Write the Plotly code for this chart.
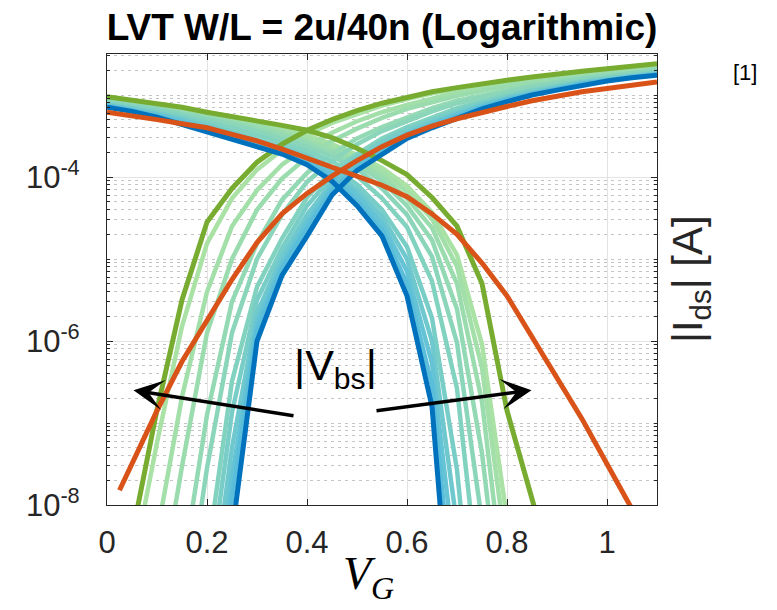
import plotly.graph_objects as go

vg = [0.0, 0.05, 0.1, 0.15, 0.2, 0.25, 0.3, 0.35, 0.4, 0.45, 0.5, 0.55,
      0.6, 0.65, 0.7, 0.75, 0.8, 0.85, 0.9, 0.95, 1.0, 1.05, 1.1]

# log10(|Ids| / A)
blue_rise = [None, None, None, None, -10.9, -8.35, -6.0, -5.2, -4.72, -4.22, -3.92, -3.72,
             -3.53, -3.40, -3.28, -3.17, -3.08, -3.00, -2.94, -2.88, -2.83, -2.79, -2.76]
green_rise = [-9.9, -8.4, -6.84, -5.5, -4.55, -4.14, -3.82, -3.60, -3.43, -3.30, -3.19, -3.10,
              -3.03, -2.96, -2.91, -2.86, -2.82, -2.78, -2.74, -2.71, -2.68, -2.65, -2.62]
blue_fall = [-3.15, -3.2, -3.27, -3.36, -3.46, -3.55, -3.63, -3.72, -3.85, -4.05, -4.35, -4.72,
             -5.45, -6.8, -10.5, None, None, None, None, None, None, None, None]
green_fall = [-3.02, -3.06, -3.1, -3.15, -3.21, -3.26, -3.31, -3.37, -3.43, -3.52, -3.65, -3.8,
              -3.97, -4.25, -4.6, -5.3, -6.85, -8.0, -9.0, None, None, None, None]
orange_vg_rise = [0.025, 0.05, 0.1, 0.15, 0.2, 0.25, 0.3, 0.35, 0.4, 0.45, 0.5, 0.55,
                  0.6, 0.65, 0.7, 0.75, 0.8, 0.85, 0.9, 0.95, 1.0, 1.05, 1.1]
orange_rise = [-7.82, -7.5, -6.85, -6.25, -5.75, -5.25, -4.8, -4.45, -4.2, -3.99, -3.8, -3.63,
               -3.49, -3.38, -3.29, -3.21, -3.14, -3.07, -3.01, -2.96, -2.92, -2.88, -2.84]
orange_fall = [-3.21, -3.25, -3.3, -3.35, -3.40, -3.48, -3.56, -3.66, -3.77, -3.88, -3.98, -4.10,
               -4.24, -4.45, -4.7, -5.05, -5.45, -5.95, -6.45, -6.95, -7.5, -8.05, -8.6]

# intermediate |Vbs| curves (lightest green -> cyan), rising branch
mid_rise_1 = [-10.36, -8.82, -7.24, -5.82, -4.81, -4.26, -3.91, -3.67, -3.48, -3.34, -3.23, -3.13,
              -3.05, -2.98, -2.93, -2.87, -2.83, -2.79, -2.75, -2.72, -2.69, -2.66, -2.63]
mid_rise_2 = [None, -10.03, -8.36, -6.68, -5.40, -4.60, -4.16, -3.85, -3.63, -3.46, -3.32, -3.21,
              -3.12, -3.04, -2.97, -2.92, -2.86, -2.82, -2.78, -2.75, -2.71, -2.68, -2.65]
mid_rise_3 = [None, -11.09, -9.31, -7.53, -5.90, -5.00, -4.40, -4.02, -3.76, -3.56, -3.41, -3.28,
              -3.17, -3.09, -3.01, -2.95, -2.89, -2.85, -2.80, -2.77, -2.73, -2.70, -2.67]
mid_rise_4 = [None, None, -10.77, -8.82, -6.90, -5.52, -4.81, -4.28, -3.95, -3.72, -3.53, -3.39,
              -3.27, -3.16, -3.07, -3.00, -2.94, -2.88, -2.84, -2.79, -2.76, -2.73, -2.69]
mid_rise_5 = [None, None, None, -9.60, -7.55, -5.90, -5.00, -4.46, -4.06, -3.80, -3.60, -3.44,
              -3.32, -3.20, -3.10, -3.03, -2.96, -2.90, -2.85, -2.80, -2.77, -2.74, -2.70]
mid_rise_6 = [None, None, None, -10.80, -8.60, -6.49, -5.34, -4.75, -4.25, -3.93, -3.72, -3.53,
              -3.39, -3.27, -3.16, -3.08, -3.00, -2.94, -2.88, -2.83, -2.79, -2.76, -2.72]
mid_rise_7 = [None, None, None, -11.33, -9.07, -6.87, -5.50, -4.87, -4.35, -4.00, -3.76, -3.57,
              -3.42, -3.30, -3.19, -3.10, -3.02, -2.95, -2.89, -2.84, -2.80, -2.77, -2.73]
mid_rise_8 = [None, None, None, -11.99, -9.58, -7.30, -5.66, -4.97, -4.46, -4.07, -3.81, -3.61,
              -3.46, -3.33, -3.22, -3.12, -3.04, -2.97, -2.91, -2.85, -2.81, -2.77, -2.74]
mid_rise_9 = [None, None, None, None, -10.02, -7.65, -5.78, -5.06, -4.55, -4.12, -3.85, -3.65,
              -3.48, -3.36, -3.24, -3.14, -3.05, -2.98, -2.92, -2.86, -2.82, -2.78, -2.75]
mid_rise_10 = [None, None, None, None, -10.36, -7.92, -5.87, -5.11, -4.62, -4.16, -3.88, -3.68,
               -3.50, -3.37, -3.26, -3.15, -3.06, -2.99, -2.93, -2.87, -2.82, -2.78, -2.75]

# intermediate |Vbs| curves (lightest green -> cyan), falling branch
mid_fall_1 = [-3.04, -3.08, -3.12, -3.18, -3.23, -3.29, -3.35, -3.41, -3.49, -3.60, -3.73, -3.89,
              -4.11, -4.43, -4.95, -6.04, -8.17, -10.33, None, None, None, None, None]
mid_fall_2 = [-3.05, -3.09, -3.13, -3.19, -3.24, -3.30, -3.36, -3.43, -3.52, -3.63, -3.76, -3.93,
              -4.18, -4.51, -5.09, -6.33, -8.62, -10.85, None, None, None, None, None]
mid_fall_3 = [-3.06, -3.10, -3.15, -3.20, -3.26, -3.32, -3.38, -3.46, -3.56, -3.67, -3.81, -3.99,
              -4.26, -4.62, -5.30, -6.74, -9.31, None, None, None, None, None, None]
mid_fall_4 = [-3.07, -3.11, -3.16, -3.22, -3.27, -3.34, -3.41, -3.49, -3.59, -3.71, -3.85, -4.05,
              -4.35, -4.77, -5.61, -7.37, -9.95, None, None, None, None, None, None]
mid_fall_5 = [-3.08, -3.12, -3.17, -3.23, -3.29, -3.36, -3.44, -3.53, -3.63, -3.75, -3.90, -4.14,
              -4.46, -4.97, -6.02, -8.20, -10.77, None, None, None, None, None, None]
mid_fall_6 = [-3.10, -3.14, -3.19, -3.25, -3.32, -3.40, -3.49, -3.58, -3.68, -3.81, -3.99, -4.26,
              -4.61, -5.27, -6.58, -9.32, None, None, None, None, None, None, None]
mid_fall_7 = [-3.12, -3.16, -3.22, -3.28, -3.36, -3.45, -3.54, -3.63, -3.73, -3.88, -4.09, -4.40,
              -4.85, -5.72, -7.57, -10.65, None, None, None, None, None, None, None]
mid_fall_8 = [-3.12, -3.17, -3.23, -3.30, -3.38, -3.47, -3.57, -3.65, -3.76, -3.92, -4.16, -4.48,
              -5.00, -6.00, -8.24, -11.46, None, None, None, None, None, None, None]
mid_fall_9 = [-3.13, -3.18, -3.24, -3.32, -3.41, -3.50, -3.59, -3.68, -3.79, -3.96, -4.22, -4.56,
              -5.15, -6.27, -8.92, None, None, None, None, None, None, None, None]
mid_fall_10 = [-3.14, -3.19, -3.26, -3.34, -3.43, -3.52, -3.61, -3.70, -3.82, -4.01, -4.29, -4.64,
               -5.30, -6.54, -9.67, None, None, None, None, None, None, None, None]

mid_rise = [mid_rise_1, mid_rise_2, mid_rise_3, mid_rise_4, mid_rise_5,
            mid_rise_6, mid_rise_7, mid_rise_8, mid_rise_9, mid_rise_10]
mid_fall = [mid_fall_1, mid_fall_2, mid_fall_3, mid_fall_4, mid_fall_5,
            mid_fall_6, mid_fall_7, mid_fall_8, mid_fall_9, mid_fall_10]
mid_colors = ["#a9e2a4", "#a2dfa9", "#9bdcae", "#93d9b4", "#8bd6ba",
              "#82d2c0", "#78cdc7", "#6ec8ce", "#64c3d4", "#5abedb"]
BLUE, GREEN, ORANGE = "#0072BD", "#77AC30", "#D95319"

x_ticks = [0, 0.2, 0.4, 0.6, 0.8, 1.0]
x_tick_text = ["0", "0.2", "0.4", "0.6", "0.8", "1"]
y_ticks = [1e-8, 1e-6, 1e-4]
y_tick_text = ["10<sup>-8</sup>", "10<sup>-6</sup>", "10<sup>-4</sup>"]
y_minor = [m * 10.0 ** d for d in range(-8, -2) for m in range(1, 10)
           if m * 10.0 ** d <= 3.1e-3 and not (m == 1 and d in (-8, -6, -4))]


def tolin(vals):
    return [None if v is None else 10 ** v for v in vals]


fig = go.Figure()
for vals_r, vals_f, c in zip(mid_rise, mid_fall, mid_colors):
    fig.add_trace(go.Scatter(x=vg, y=tolin(vals_r), mode="lines", line=dict(color=c, width=4.5)))
    fig.add_trace(go.Scatter(x=vg, y=tolin(vals_f), mode="lines", line=dict(color=c, width=4.5)))
fig.add_trace(go.Scatter(x=vg, y=tolin(green_rise), mode="lines", line=dict(color=GREEN, width=5)))
fig.add_trace(go.Scatter(x=vg, y=tolin(green_fall), mode="lines", line=dict(color=GREEN, width=5)))
fig.add_trace(go.Scatter(x=vg, y=tolin(blue_rise), mode="lines", line=dict(color=BLUE, width=5)))
fig.add_trace(go.Scatter(x=vg, y=tolin(blue_fall), mode="lines", line=dict(color=BLUE, width=5)))
fig.add_trace(go.Scatter(x=orange_vg_rise, y=tolin(orange_rise), mode="lines",
                         line=dict(color=ORANGE, width=5)))
fig.add_trace(go.Scatter(x=vg, y=tolin(orange_fall), mode="lines", line=dict(color=ORANGE, width=5)))

AX = "#262626"
FONT = "Liberation Sans"
PL, PT, PW, PH = 106.5, 54, 550.5, 451


def px(xp, yp):
    return (xp - PL) / PW, (PT + PH - yp) / PH


fig.update_layout(
    width=777, height=610,
    margin=dict(l=PL, r=777 - PL - PW, t=PT, b=610 - PT - PH),
    paper_bgcolor="white", plot_bgcolor="white",
    showlegend=False,
    title=dict(text="<b>LVT W/L = 2u/40n (Logarithmic)</b>", x=0.5, xref="paper",
               y=1 - 27 / 610, yref="container", yanchor="middle", xanchor="center",
               font=dict(family=FONT, size=37, color="black")),
    xaxis=dict(range=[0, 1.1], tickvals=x_ticks, ticktext=x_tick_text, ticks="inside",
               ticklen=6, tickcolor=AX, showline=True, linecolor=AX, linewidth=1.2,
               mirror="ticks", showgrid=True, gridcolor="#e3e3e3", gridwidth=1.3,
               zeroline=False, tickfont=dict(family=FONT, size=31, color=AX),
               ticklabelstandoff=10),
    yaxis=dict(type="log", range=[-8, -2.5], tickvals=y_ticks, ticktext=y_tick_text,
               ticks="inside", ticklen=6, tickcolor=AX, showline=True, linecolor=AX,
               linewidth=1.2, mirror="ticks", showgrid=True, gridcolor="#e3e3e3",
               gridwidth=1.3, zeroline=False,
               tickfont=dict(family=FONT, size=31, color=AX), ticklabelstandoff=20,
               minor=dict(tickvals=y_minor, ticks="inside", ticklen=3, tickcolor=AX,
                          showgrid=True, gridcolor="#c4c4c4", griddash="3px,4px",
                          gridwidth=1)),
)

fig.add_annotation(x=0.053, y=-6.60, ax=0.376, ay=-6.915, xref="x", yref="y",
                   axref="x", ayref="y", text="", showarrow=True, arrowhead=3,
                   arrowsize=1.45, arrowwidth=3.5, arrowcolor="black")
fig.add_annotation(x=0.849, y=-6.60, ax=0.536, ay=-6.854, xref="x", yref="y",
                   axref="x", ayref="y", text="", showarrow=True, arrowhead=3,
                   arrowsize=1.45, arrowwidth=3.5, arrowcolor="black")
ax_, ay_ = px(335, 368)
fig.add_annotation(x=ax_, y=ay_, xref="paper", yref="paper", xanchor="center", yanchor="middle",
                   text="|V<sub>bs</sub>|", showarrow=False,
                   font=dict(family=FONT, size=43, color="black"))
ax_, ay_ = px(745, 72)
fig.add_annotation(x=ax_, y=ay_, xref="paper", yref="paper", xanchor="center", yanchor="middle",
                   text="[1]", showarrow=False, font=dict(family=FONT, size=22, color="black"))
ax_, ay_ = px(690, 279)
fig.add_annotation(x=ax_, y=ay_, xref="paper", yref="paper", xanchor="center", yanchor="middle",
                   text="|I<sub>ds</sub>| [A]", textangle=-90, showarrow=False,
                   font=dict(family=FONT, size=42, color=AX))
ax_, ay_ = px(368, 577)
fig.add_annotation(x=ax_, y=ay_, xref="paper", yref="paper", xanchor="center", yanchor="middle",
                   text="<i>V</i><sub><i>G</i></sub>", showarrow=False,
                   font=dict(family="Liberation Serif", size=46, color="black"))

fig.write_html("out.html")
